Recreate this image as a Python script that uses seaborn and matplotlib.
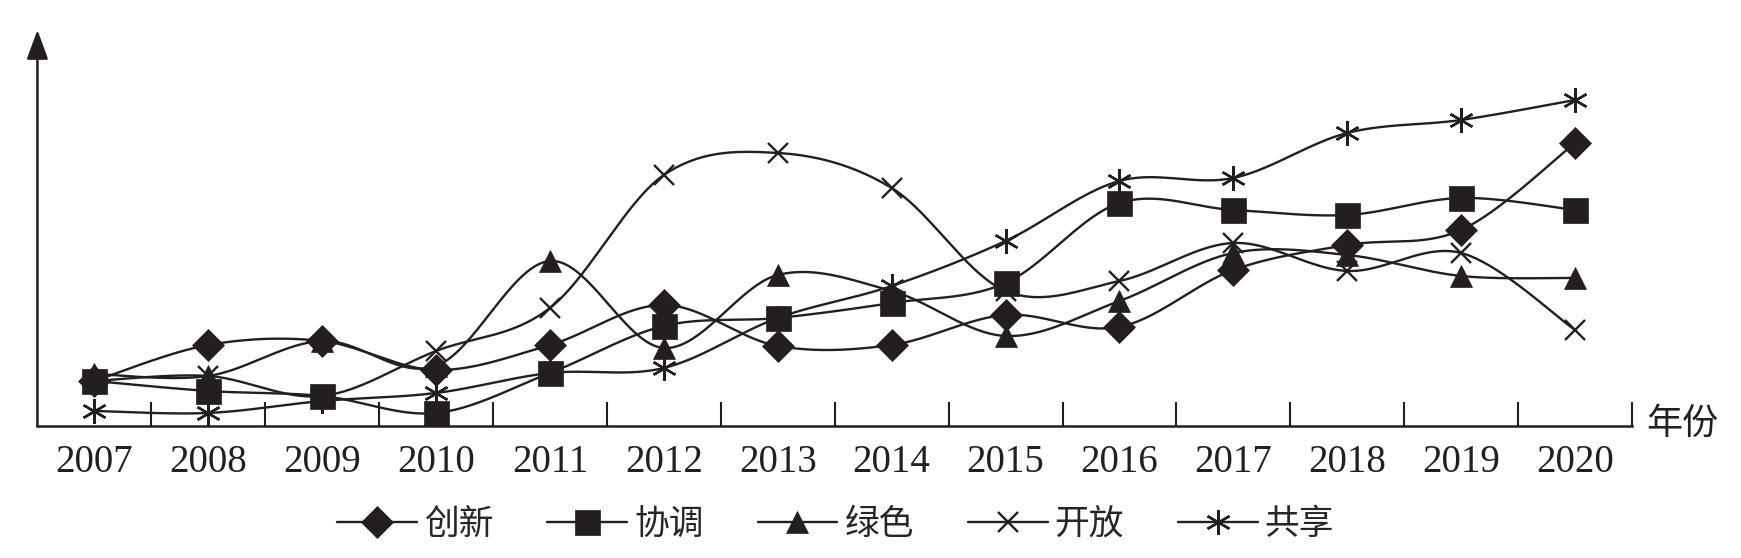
import numpy as np
import pandas as pd
import matplotlib
matplotlib.use("Agg")
import matplotlib.pyplot as plt
import seaborn as sns
from matplotlib.lines import Line2D

sns.set_theme(style="white")
plt.rcParams["font.family"] = ["Liberation Serif", "Noto Sans CJK SC"]

# data (height above the axis, arbitrary units)
years = [str(y) for y in range(2007, 2021)]
chuangxin = [45, 81, 85, 56, 81, 121, 80, 81, 111, 99, 156, 181, 196, 283]
xietiao = [45, 35, 30, 13, 53, 100, 108, 123, 143, 223, 216, 211, 228, 216]
lvse = [52, 50, 85, 60, 165, 78, 151, 135, 90, 125, 173, 171, 150, 148]
kaifang = [45, 50, 30, 75, 118, 251, 273, 238, 135, 145, 183, 155, 173, 96]
gongxiang = [15, 13, 25, 33, 53, 58, 108, 140, 185, 245, 248, 293, 306, 326]

series_names = ["创新", "协调", "绿色", "开放", "共享"]
series_vals = [chuangxin, xietiao, lvse, kaifang, gongxiang]
markers = ["D", "s", "^", "x", (6, 2, 0)]
msizes = [16, 18, 16, 14, 18]

ink = "#231f20"


def smooth(xs, ys, n=40):
    # excel-like smoothed line (bezier through every point)
    p = np.column_stack([xs, ys]).astype(float)
    ext = np.vstack([p[0], p, p[-1]])
    t = np.linspace(0, 1, n)[:, None]
    out = []
    for i in range(len(p) - 1):
        p0, p1 = ext[i + 1], ext[i + 2]
        c1 = p0 + (ext[i + 2] - ext[i]) / 6
        c2 = p1 - (ext[i + 3] - ext[i + 1]) / 6
        seg = (1 - t) ** 3 * p0 + 3 * (1 - t) ** 2 * t * c1 + 3 * (1 - t) * t ** 2 * c2 + t ** 3 * p1
        out.append(seg if i == 0 else seg[1:])
    out = np.vstack(out)
    return out[:, 0], out[:, 1]


xpos = np.arange(len(years)) + 0.5

frames = []
for name, vals in zip(series_names, series_vals):
    sx, sy = smooth(xpos, vals)
    frames.append(pd.DataFrame({"x": sx, "y": sy, "系列": name}))
df = pd.concat(frames, ignore_index=True)

fig = plt.figure(figsize=(17.41, 5.58), dpi=100)
ax = fig.add_axes([0.0215, 0.2366, 0.9159, 0.7097])

for name in series_names:
    sub = df[df["系列"] == name]
    sns.lineplot(x=sub["x"].values, y=sub["y"].values, color=ink, lw=1.7,
                 sort=False, estimator=None, ax=ax)

for vals, m, ms in zip(series_vals, markers, msizes):
    ax.plot(xpos, vals, linestyle="none", marker=m, markersize=ms, color=ink,
            markeredgewidth=1.7 if m in ("x", (6, 2, 0)) else 0.5, markeredgecolor=ink)

ax.set_xlim(0, len(years))
ax.set_ylim(0, 396)

for s in ["top", "right", "left"]:
    ax.spines[s].set_visible(False)
ax.spines["bottom"].set_color(ink)
ax.spines["bottom"].set_linewidth(1.8)

ax.set_xticks(xpos)
ax.set_xticklabels(years, fontsize=28, color=ink, family="Liberation Serif")
ax.set_xticks(np.arange(1, len(years) + 1), minor=True)
ax.tick_params(axis="x", which="major", length=0, pad=13)
ax.tick_params(axis="x", which="minor", direction="in", length=17.5, width=1.5, color=ink, bottom=True)
ax.set_yticks([])
ax.set_xlabel("")
ax.set_ylabel("")

ax.annotate("", xy=(0, 1), xycoords="axes fraction", xytext=(0, 0), textcoords="axes fraction",
            arrowprops=dict(arrowstyle="-|>,head_length=0.9,head_width=0.33", color=ink, lw=1.8,
                            mutation_scale=20, shrinkA=0, shrinkB=0),
            annotation_clip=False)

ax.text(1.009, 0.005, "年份", transform=ax.transAxes, ha="left", va="center",
        fontsize=26, color=ink, family=["Noto Sans CJK SC", "DejaVu Sans"])

handles = [Line2D([], [], color=ink, lw=1.7, marker=m, markersize=ms,
                  markeredgewidth=1.7 if m in ("x", (6, 2, 0)) else 0.5)
           for m, ms in zip(markers, msizes)]
fig.legend(handles, series_names, loc="center", bbox_to_anchor=(0.48, 0.06), ncol=5,
           frameon=False, handlelength=2.3, handletextpad=0.2, columnspacing=1.55,
           prop={"family": ["Noto Sans CJK SC", "DejaVu Sans"], "size": 25})

fig.savefig("out.png", dpi=100, facecolor="white")
